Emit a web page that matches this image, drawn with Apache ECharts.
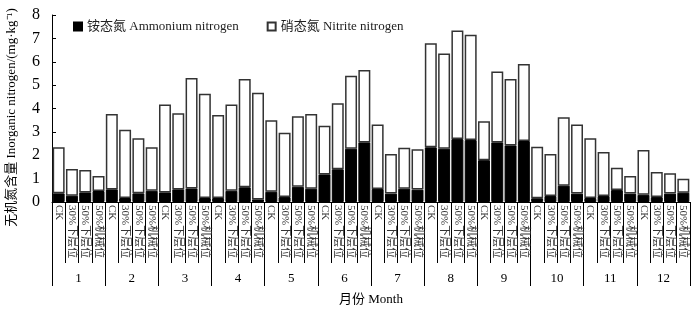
<!DOCTYPE html>
<html lang="zh">
<head>
  <meta charset="utf-8">
</head>
<body style="margin: 0">
  <div id="container" style="width: 700px; height: 311px"></div>
  <script src="https://cdn.jsdelivr.net/npm/echarts@6/dist/echarts.min.js"></script>
  <script>
    var months = ['1', '2', '3', '4', '5', '6', '7', '8', '9', '10', '11', '12'];
    var treatments = ['CK', '30%下层位', '50%下层位', '50%机械位'];

    // 铵态氮 (black part)
    var ammonium = [
      0.37, 0.27, 0.41, 0.47,
      0.54, 0.17, 0.37, 0.48,
      0.41, 0.54, 0.58, 0.17,
      0.17, 0.48, 0.63, 0.11,
      0.44, 0.21, 0.65, 0.57,
      1.18, 1.40, 2.28, 2.55,
      0.56, 0.36, 0.57, 0.53,
      2.34, 2.28, 2.69, 2.65,
      1.79, 2.55, 2.42, 2.61,
      0.16, 0.26, 0.70, 0.36,
      0.17, 0.26, 0.51, 0.36,
      0.31, 0.21, 0.36, 0.40
    ];
    // total height of each bar
    var total = [
      2.34, 1.41, 1.37, 1.11,
      3.77, 3.09, 2.73, 2.34,
      4.17, 3.80, 5.31, 4.63,
      3.72, 4.17, 5.26, 4.67,
      3.50, 2.96, 3.67, 3.76,
      3.26, 4.22, 5.40, 5.65,
      3.32, 2.05, 2.32, 2.26,
      6.79, 6.35, 7.34, 7.16,
      3.45, 5.58, 5.26, 5.90,
      2.36, 2.05, 3.63, 3.32,
      2.73, 2.14, 1.47, 1.11,
      2.22, 1.28, 1.23, 1.00
    ];
    var nitrite = total.map(function (t, i) { return +(t - ammonium[i]).toFixed(2); });

    var categories = [];
    months.forEach(function () {
      treatments.forEach(function (t) { categories.push(t); });
    });

    var font = "'Liberation Serif', 'Noto Sans CJK SC', serif";

    var chart = echarts.init(document.getElementById('container'), null, { renderer: 'canvas' });
    chart.setOption({
      animation: false,
      textStyle: { fontFamily: font, color: '#000' },
      legend: {
        left: 68, top: 15,
        itemWidth: 8, itemHeight: 8, itemGap: 28,
        textStyle: { fontFamily: font, fontSize: 13, color: '#222' },
        data: [
          { name: '铵态氮 Ammonium nitrogen', icon: 'rect' },
          { name: '硝态氮 Nitrite nitrogen', icon: 'rect' }
        ]
      },
      grid: { left: 52, right: 10, top: 15, bottom: 109, outerBoundsMode: 'none' },
      xAxis: [
        {
          type: 'category',
          data: categories,
          axisLine: { lineStyle: { color: '#000', width: 1 } },
          axisTick: { show: true, interval: 0, length: 61, lineStyle: { color: '#000' } },
          axisLabel: {
            interval: 0, rotate: -90, margin: 3,
            fontFamily: font, fontSize: 11, color: '#333'
          }
        },
        {
          type: 'category',
          position: 'bottom',
          data: months,
          name: '月份 Month',
          nameLocation: 'middle',
          nameGap: 91,
          nameTextStyle: { fontFamily: font, fontSize: 13, color: '#000' },
          axisLine: { show: false },
          axisTick: { show: true, interval: 0, length: 84, lineStyle: { color: '#000' } },
          axisLabel: { interval: 0, margin: 70, fontFamily: font, fontSize: 13, color: '#000' }
        }
      ],
      yAxis: {
        type: 'value',
        min: 0, max: 8, interval: 1,
        name: '无机氮含量 Inorganic nitrogen/(mg·kg⁻¹)',
        nameLocation: 'middle',
        nameGap: 34,
        nameTextStyle: { fontFamily: font, fontSize: 13, color: '#000', padding: [0, 18, 0, 0] },
        splitLine: { show: false },
        axisLine: { show: true, lineStyle: { color: '#000' } },
        axisTick: { show: true, inside: true, length: 4, lineStyle: { color: '#000' } },
        axisLabel: { fontFamily: font, fontSize: 16, color: '#000', margin: 12 }
      },
      series: [
        {
          name: '铵态氮 Ammonium nitrogen',
          type: 'bar',
          stack: 'n',
          xAxisIndex: 0,
          barCategoryGap: '10%',
          data: ammonium,
          itemStyle: { color: '#000', borderColor: '#000', borderWidth: 1 }
        },
        {
          name: '硝态氮 Nitrite nitrogen',
          type: 'bar',
          stack: 'n',
          xAxisIndex: 0,
          barCategoryGap: '10%',
          data: nitrite,
          itemStyle: { color: '#fff', borderColor: '#333', borderWidth: 1.5 }
        }
      ]
    });
  </script>
</body>
</html>
